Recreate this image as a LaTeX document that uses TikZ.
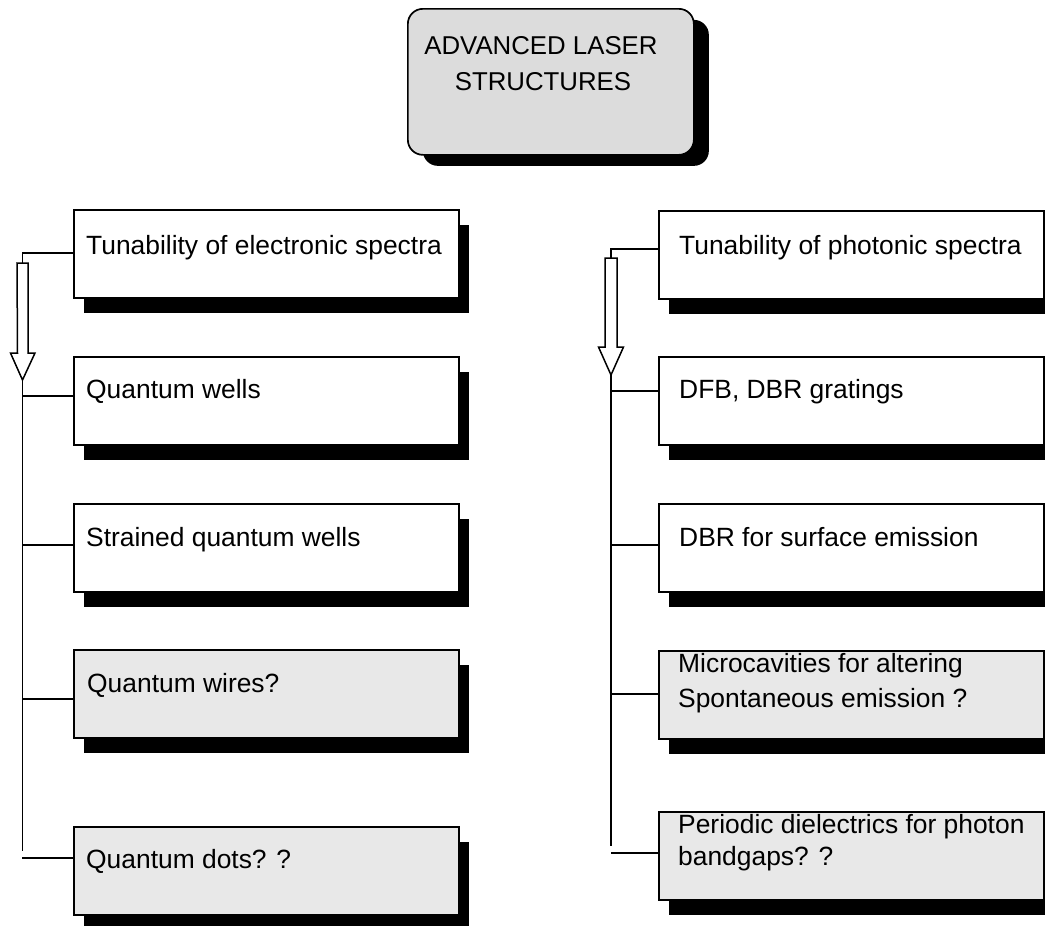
\documentclass[tikz,border=0pt]{standalone}
\usepackage{fontspec}
\setmainfont{Liberation Sans}
\usetikzlibrary{shadows}
\definecolor{boxgray}{HTML}{E8E8E8}
\definecolor{topgray}{HTML}{DCDCDC}
\begin{document}
\begin{tikzpicture}[x=1pt,y=1pt,
  box/.style={draw, line width=1.7pt, anchor=north west, minimum width=385pt, minimum height=88pt,
    inner sep=0pt, fill=white,
    drop shadow={shadow xshift=10pt, shadow yshift=-15pt, fill=black, opacity=1}},
  gbox/.style={box, fill=boxgray},
  txt/.style={anchor=base west, inner sep=0pt, font=\fontsize{26.4}{32}\selectfont},
  conn/.style={line width=1.5pt},
  hollow/.style={line width=1.5pt, fill=white, line join=miter}]
\useasboundingbox (0,0) rectangle (1045,-926);

% title box
\node[draw, line width=1.7pt, rounded corners=15pt, fill=topgray, anchor=north west,
  minimum width=286pt, minimum height=146pt, inner sep=0pt,
  drop shadow={shadow xshift=15pt, shadow yshift=-11pt, fill=black, opacity=1}] (top) at (407,-8) {};
\node[txt, anchor=base, font=\fontsize{25.8}{30}\selectfont] (topA) at (541,-54) {ADVANCED LASER};
\node[txt, anchor=base, font=\fontsize{25.8}{30}\selectfont] (topB) at (543,-90) {STRUCTURES};

% left column
\node[box]  (l1) at (73,-209) {};
\node[box]  (l2) at (73,-356) {};
\node[box]  (l3) at (73,-503) {};
\node[gbox] (l4) at (73,-649) {};
\node[gbox] (l5) at (73,-826) {};
\node[txt] (l1t) at (86,-254) {Tunability of electronic spectra};
\node[txt] (l2t) at (86,-398) {Quantum wells};
\node[txt] (l3t) at (86,-546) {Strained quantum wells};
\node[txt] (l4t) at (87,-692) {Quantum wires?};
\node[txt] (l5t) at (86,-868) {Quantum dots? ?};

% right column
\node[box]  (r1) at (658,-210) {};
\node[box]  (r2) at (658,-356) {};
\node[box]  (r3) at (658,-503) {};
\node[gbox] (r4) at (658,-650) {};
\node[gbox] (r5) at (658,-811) {};
\node[txt] (r1t) at (679,-254) {Tunability of photonic spectra};
\node[txt] (r2t) at (679,-398) {DFB, DBR gratings};
\node[txt] (r3t) at (679,-546) {DBR for surface emission};
\node[txt] (r4ta) at (678,-672) {Microcavities for altering};
\node[txt] (r4tb) at (678,-707) {Spontaneous emission ?};
\node[txt] (r5ta) at (678,-833) {Periodic dielectrics for photon};
\node[txt] (r5tb) at (678,-865) {bandgaps? ?};

% left connector
\coordinate (lh) at (22.5,-253);
\coordinate (la) at (22.5,-263);
\coordinate (ltip) at (22.5,-380);
\coordinate (lend) at (22.5,-851);
\coordinate (lb2) at (22.5,-396);
\coordinate (lb3) at (22.5,-545);
\coordinate (lb4) at (22.5,-699);
\coordinate (lb5) at (22,-858);
\draw[conn] (l1.west |- lh) -- (lh) -- (la);
\draw[hollow] (la) ++(-5.5,0) -- ++(11,0) -- ++(0,-90) -- ++(7,0) -- (ltip) -- ++(-12,27) -- ++(7,0) -- cycle;
\draw[conn] (ltip) -- (lend);
\draw[conn] (lb2) -- (lb2 -| l2.west);
\draw[conn] (lb3) -- (lb3 -| l3.west);
\draw[conn] (lb4) -- (lb4 -| l4.west);
\draw[conn] (lb5) -- (lb5 -| l5.west);

% right connector
\coordinate (rh) at (611,-249);
\coordinate (ra) at (611,-258);
\coordinate (rtip) at (611,-375);
\coordinate (rend) at (611,-846);
\coordinate (rb2) at (611,-391);
\coordinate (rb3) at (611,-545);
\coordinate (rb4) at (611,-694);
\coordinate (rb5) at (611,-853);
\draw[conn] (r1.west |- rh) -- (rh) -- (ra);
\draw[hollow] (ra) ++(-6,0) -- ++(12,0) -- ++(0,-89) -- ++(6.5,0) -- (rtip) -- ++(-12.5,28) -- ++(6.5,0) -- cycle;
\draw[conn] (rtip) -- (rend);
\draw[conn] (rb2) -- (rb2 -| r2.west);
\draw[conn] (rb3) -- (rb3 -| r3.west);
\draw[conn] (rb4) -- (rb4 -| r4.west);
\draw[conn] (rb5) -- (rb5 -| r5.west);
\end{tikzpicture}
\end{document}
